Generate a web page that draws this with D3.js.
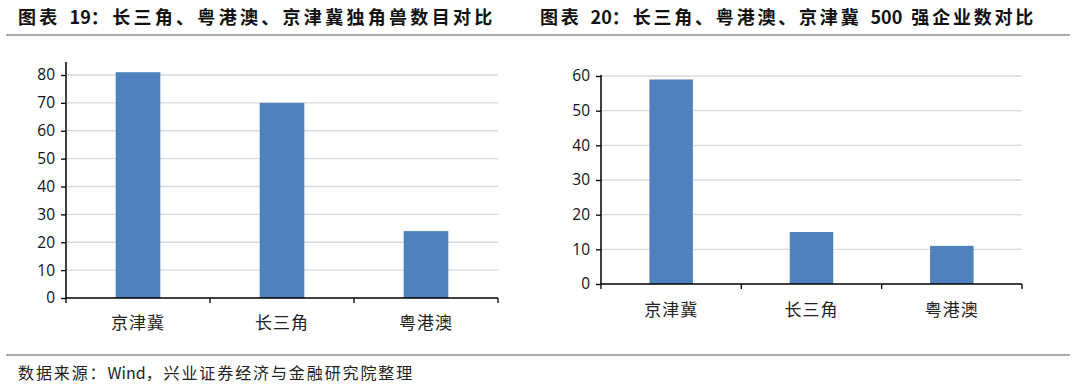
<!DOCTYPE html>
<html>
<head>
<meta charset="utf-8">
<script src="https://cdn.jsdelivr.net/npm/d3@7"></script>
<style>
  body { margin: 0; background: #fff; }
  svg { display: block; }
</style>
</head>
<body>
<svg id="svg" width="1080" height="387"></svg>
<script>
// Data
const categories = ['京津冀', '长三角', '粤港澳'];
const unicornCounts = [81, 70, 24];
const top500Counts = [59, 15, 11];
const unicornTicks = [0, 10, 20, 30, 40, 50, 60, 70, 80];
const top500Ticks = [0, 10, 20, 30, 40, 50, 60];
const titleLeft = '图表 19：长三角、粤港澳、京津冀独角兽数目对比';
const titleRight = '图表 20：长三角、粤港澳、京津冀 500 强企业数对比';
const sourceText = '数据来源：Wind，兴业证券经济与金融研究院整理';

const svg = d3.select('#svg');
const barColor = '#4f81bd';
const gridColor = '#d9d9d9';
const cjk = '"Noto Sans CJK SC", sans-serif';
const numFont = '"Open Sans", "Liberation Sans", sans-serif';

// spread CJK glyphs only, leave latin runs tight (en spaces so gaps survive)
function spacedText(textSel, str, spacing) {
  str.split(/([A-Za-z0-9 ]+)/).filter((s) => s.length).forEach((part) => {
    const latin = /^[A-Za-z0-9 ]+$/.test(part);
    textSel.append('tspan')
      .attr('letter-spacing', latin ? 0 : spacing)
      .text(part.replace(/ /g, '\u2002'));
  });
}

// Titles + rules
const t1 = svg.append('text')
  .attr('x', 18).attr('y', 24)
  .attr('font-family', cjk).attr('font-weight', 700).attr('font-size', 18)
  .attr('fill', '#111');
spacedText(t1, titleLeft, 3.3);
const t2 = svg.append('text')
  .attr('x', 540).attr('y', 24)
  .attr('font-family', cjk).attr('font-weight', 700).attr('font-size', 18)
  .attr('fill', '#111');
spacedText(t2, titleRight, 2.8);

svg.append('line')
  .attr('x1', 6).attr('x2', 1070).attr('y1', 35).attr('y2', 35)
  .attr('stroke', '#555').attr('stroke-width', 1.2);
svg.append('line')
  .attr('x1', 6).attr('x2', 1070).attr('y1', 355).attr('y2', 355)
  .attr('stroke', '#555').attr('stroke-width', 1.2);

const src = svg.append('text')
  .attr('x', 18).attr('y', 379)
  .attr('font-family', cjk).attr('font-size', 16)
  .attr('fill', '#222');
spacedText(src, sourceText, 1.9);

// One bar panel
function drawPanel(opts) {
  const { values, ticks, x0, x1, yTop, yZero, yMax, axisTop, labelY } = opts;
  const g = svg.append('g');

  const x = d3.scaleBand().domain(categories).range([x0, x1]).paddingInner(0.69).paddingOuter(0.345);
  const y = d3.scaleLinear().domain([0, yMax]).range([yZero, yTop]);

  // gridlines
  g.append('g')
    .selectAll('line')
    .data(ticks.filter((d) => d > 0))
    .enter()
    .append('line')
    .attr('x1', x0).attr('x2', x1)
    .attr('y1', (d) => y(d)).attr('y2', (d) => y(d))
    .attr('stroke', gridColor).attr('stroke-width', 1.3);

  // bars
  g.append('g')
    .selectAll('rect')
    .data(values)
    .enter()
    .append('rect')
    .attr('x', (d, i) => x(categories[i]))
    .attr('width', x.bandwidth())
    .attr('y', (d) => y(d))
    .attr('height', (d) => y(0) - y(d))
    .attr('fill', barColor);

  // y axis
  const yAxis = d3.axisLeft(y).tickValues(ticks).tickSize(5).tickPadding(6);
  const ya = g.append('g').attr('transform', `translate(${x0},0)`).call(yAxis);
  ya.select('.domain').remove();
  ya.selectAll('line').attr('stroke', '#000').attr('stroke-width', 1.3);
  ya.selectAll('text')
    .attr('font-family', numFont).attr('font-size', 15.5).attr('fill', '#111');
  g.append('line')
    .attr('x1', x0).attr('x2', x0).attr('y1', axisTop).attr('y2', yZero)
    .attr('stroke', '#000').attr('stroke-width', 1.5);

  // x axis with boundary ticks
  const step = (x1 - x0) / categories.length;
  g.append('line')
    .attr('x1', x0).attr('x2', x1).attr('y1', yZero).attr('y2', yZero)
    .attr('stroke', '#000').attr('stroke-width', 1.5);
  g.append('g')
    .selectAll('line')
    .data(d3.range(categories.length + 1))
    .enter()
    .append('line')
    .attr('x1', (d) => x0 + d * step).attr('x2', (d) => x0 + d * step)
    .attr('y1', yZero).attr('y2', yZero + 5)
    .attr('stroke', '#000').attr('stroke-width', 1.3);

  g.append('g')
    .selectAll('text')
    .data(categories)
    .enter()
    .append('text')
    .attr('x', (d) => x(d) + x.bandwidth() / 2)
    .attr('y', labelY)
    .attr('text-anchor', 'middle')
    .attr('font-family', cjk).attr('font-size', 17).attr('letter-spacing', 1)
    .attr('fill', '#222')
    .text((d) => d);
}

drawPanel({
  values: unicornCounts, ticks: unicornTicks,
  x0: 66, x1: 498, yTop: 75, yZero: 298, yMax: 80, axisTop: 62, labelY: 329,
});
drawPanel({
  values: top500Counts, ticks: top500Ticks,
  x0: 601, x1: 1022, yTop: 76, yZero: 284, yMax: 60, axisTop: 75, labelY: 316,
});
</script>
</body>
</html>
